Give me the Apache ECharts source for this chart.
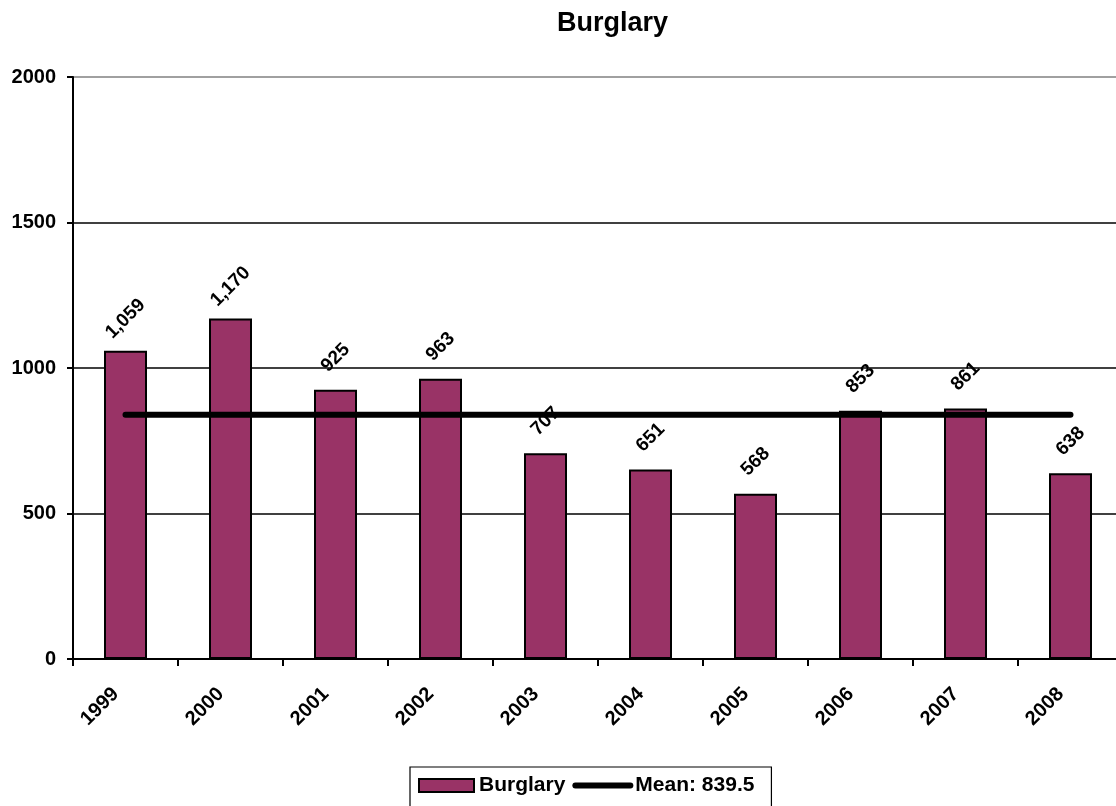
<!DOCTYPE html>
<html>
<head>
<meta charset="utf-8">
<script src="https://cdn.jsdelivr.net/npm/echarts@6/dist/echarts.min.js"></script>
<style>
html,body{margin:0;padding:0;background:#fff;overflow:hidden;width:1116px;height:806px;}
#chart{width:1123px;height:806px;}
</style>
</head>
<body>
<div id="chart"></div>
<script>
const years = ['1999','2000','2001','2002','2003','2004','2005','2006','2007','2008'];
const burglary = [1059, 1170, 925, 963, 707, 651, 568, 853, 861, 638];
const yTicks = [0, 500, 1000, 1500, 2000];

const meanValue = burglary.reduce((a, b) => a + b, 0) / burglary.length;
const meanName = 'Mean: ' + meanValue.toFixed(1);
const meanLine = years.map(() => meanValue);

const font = 'Liberation Sans, Arial, sans-serif';
const chart = echarts.init(document.getElementById('chart'), null, {renderer: 'canvas'});
chart.setOption({
  animation: false,
  backgroundColor: '#ffffff',
  title: {
    text: 'Burglary',
    left: 552,
    top: 5,
    textStyle: {fontFamily: font, fontWeight: 'bold', fontSize: 27, color: '#000'}
  },
  legend: {
    left: 410,
    top: 767,
    orient: 'horizontal',
    borderColor: '#000',
    borderWidth: 1.2,
    padding: [8, 17, 20, 8],
    itemGap: 7,
    itemWidth: 55,
    itemHeight: 13,
    textStyle: {fontFamily: font, fontWeight: 'bold', fontSize: 21, color: '#000'},
    data: [
      {name: 'Burglary', icon: 'rect'},
      {name: meanName, lineStyle: {width: 6, cap: 'round', color: '#000'}, itemStyle: {color: 'rgba(0,0,0,0)', borderWidth: 0}}
    ]
  },
  grid: {left: 73, right: 0, top: 77, bottom: 147, containLabel: false},
  xAxis: {
    type: 'category',
    data: years,
    boundaryGap: true,
    axisLine: {lineStyle: {color: '#000', width: 2}},
    axisTick: {show: true, length: 7, alignWithLabel: false, lineStyle: {color: '#000', width: 2}},
    axisLabel: {
      rotate: 45,
      margin: 22,
      padding: [0, 14, 0, 0],
      fontFamily: font, fontWeight: 'bold', fontSize: 20, color: '#000'
    }
  },
  yAxis: {
    type: 'value',
    min: yTicks[0],
    max: yTicks[yTicks.length - 1],
    interval: 500,
    axisLine: {show: true, lineStyle: {color: '#000', width: 2}},
    axisTick: {show: true, length: 6, lineStyle: {color: '#000', width: 2}},
    axisLabel: {margin: 17, fontFamily: font, fontWeight: 'bold', fontSize: 20, color: '#000', formatter: v => String(v)},
    splitLine: {show: true, lineStyle: {color: ['#000', '#000', '#000', '#000', '#808080'], width: 1.5}}
  },
  series: [
    {
      name: 'Burglary',
      type: 'bar',
      data: burglary,
      barWidth: 43,
      itemStyle: {color: '#993366', borderColor: '#000', borderWidth: 2},
      label: {
        show: true,
        position: 'top',
        distance: 32,
        rotate: 45,
        align: 'center',
        verticalAlign: 'middle',
        fontFamily: font, fontWeight: 'bold', fontSize: 19, color: '#000',
        formatter: p => p.value.toLocaleString('en-US')
      },
      z: 2
    },
    {
      name: meanName,
      type: 'line',
      data: meanLine,
      symbol: 'none',
      lineStyle: {color: '#000', width: 6, cap: 'round'},
      itemStyle: {color: '#000'},
      z: 5
    }
  ]
});
</script>
</body>
</html>
